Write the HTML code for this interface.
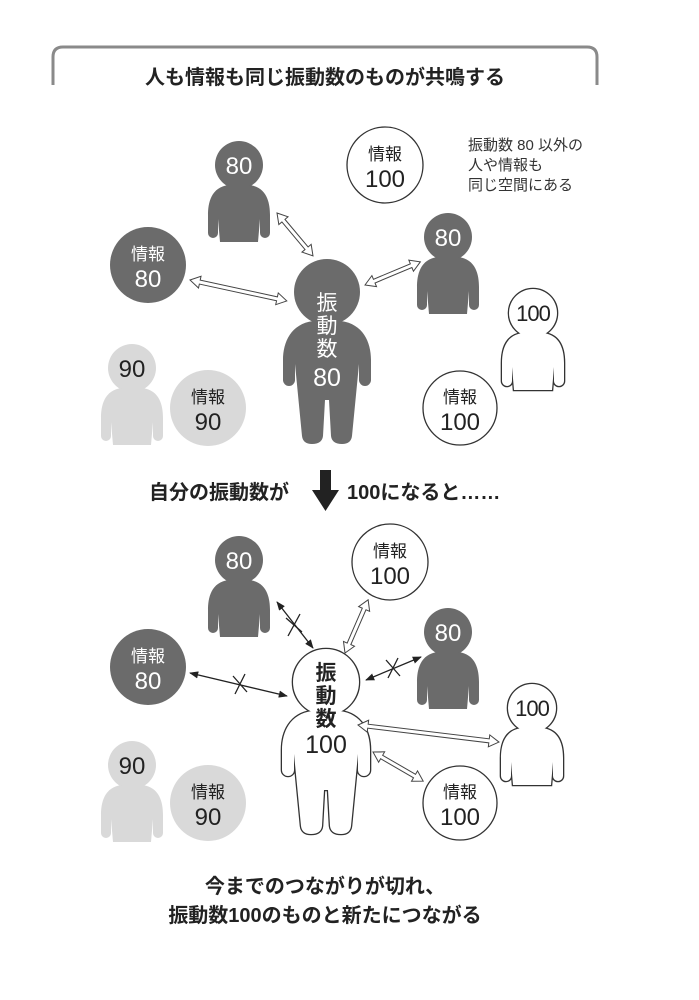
<!DOCTYPE html>
<html><head><meta charset="utf-8"><style>
html,body{margin:0;padding:0;background:#fff}
svg{display:block}
text{font-family:"Liberation Sans","Noto Sans CJK JP",sans-serif}
</style></head><body>
<svg width="699" height="1000" viewBox="0 0 699 1000" xmlns="http://www.w3.org/2000/svg">
<defs>
<g id="sp"><circle cx="0" cy="0" r="24"/><path d="M -10,20 C -28,22 -31,38 -31,50 L -31,68 a5,5 0 0 0 10,0 L -21,54 L -19,77 L 19,77 L 21,54 L 21,68 a5,5 0 0 0 10,0 L 31,50 C 31,38 28,22 10,20 Z"/></g>
<g id="bp"><circle cx="0" cy="0" r="33"/><path d="M -14,29 C -36,32 -44,50 -44,68 L -44,88 a6,6 0 0 0 12,0 L -32,72 L -25,144 Q -24,152 -15,152 Q -5,152 -4,144 L -2,108 L 2,108 L 4,144 Q 5,152 15,152 Q 24,152 25,144 L 32,72 L 32,88 a6,6 0 0 0 12,0 L 44,68 C 44,50 36,32 14,29 Z"/></g>
<marker id="ah" viewBox="0 0 10 10" refX="9" refY="5" markerWidth="7" markerHeight="7" orient="auto-start-reverse"><path d="M0,1 L10,5 L0,9 Z" fill="#222"/></marker>
</defs>

<path d="M53,85 L53,57 Q53,47 63,47 L587,47 Q597,47 597,57 L597,85" fill="none" stroke="#8a8a8a" stroke-width="3"/>
<text x="325" y="84" font-size="20" font-weight="bold" text-anchor="middle" fill="#222">人も情報も同じ振動数のものが共鳴する</text>

<text font-size="15" fill="#333"><tspan x="468" y="150">振動数 80 以外の</tspan><tspan x="468" y="170">人や情報も</tspan><tspan x="468" y="190">同じ空間にある</tspan></text>

<!-- TOP -->
<use href="#sp" x="239" y="165" fill="#6b6b6b"/>
<text x="239" y="174" font-size="24" fill="#fff" text-anchor="middle">80</text>
<use href="#sp" x="448" y="237" fill="#6b6b6b"/>
<text x="448" y="246" font-size="24" fill="#fff" text-anchor="middle">80</text>
<use href="#sp" x="533" y="313" fill="#333" stroke="#333" stroke-width="2.6"/>
<use href="#sp" x="533" y="313" fill="#fff"/>
<text x="533" y="321" font-size="22" fill="#222" text-anchor="middle" letter-spacing="-1">100</text>
<use href="#sp" x="132" y="368" fill="#d9d9d9"/>
<text x="132" y="377" font-size="24" fill="#222" text-anchor="middle">90</text>

<circle cx="385" cy="165" r="38" fill="#fff" stroke="#333" stroke-width="1.3"/>
<text x="385" y="160" font-size="17" fill="#222" text-anchor="middle">情報</text>
<text x="385" y="187" font-size="24" fill="#222" text-anchor="middle">100</text>
<circle cx="148" cy="265" r="38" fill="#6b6b6b"/>
<text x="148" y="260" font-size="17" fill="#fff" text-anchor="middle">情報</text>
<text x="148" y="287" font-size="24" fill="#fff" text-anchor="middle">80</text>
<circle cx="208" cy="408" r="38" fill="#d9d9d9"/>
<text x="208" y="403" font-size="17" fill="#222" text-anchor="middle">情報</text>
<text x="208" y="430" font-size="24" fill="#222" text-anchor="middle">90</text>
<circle cx="460" cy="408" r="37" fill="#fff" stroke="#333" stroke-width="1.3"/>
<text x="460" y="403" font-size="17" fill="#222" text-anchor="middle">情報</text>
<text x="460" y="430" font-size="24" fill="#222" text-anchor="middle">100</text>

<use href="#bp" x="327" y="292" fill="#6b6b6b"/>
<text font-size="21" fill="#fff" text-anchor="middle"><tspan x="327" y="310">振</tspan><tspan x="327" y="333">動</tspan><tspan x="327" y="356">数</tspan></text>
<text x="327" y="386" font-size="25" fill="#fff" text-anchor="middle">80</text>

<g fill="#fff" stroke="#444" stroke-width="1">
<polygon transform="translate(277,213) rotate(50)" points="0,0 10,-6 10,-2 46,-2 46,-6 56,0 46,6 46,2 10,2 10,6"/>
<polygon transform="translate(190,280) rotate(12.2)" points="0,0 10,-6 10,-2 89,-2 89,-6 99,0 89,6 89,2 10,2 10,6"/>
<polygon transform="translate(365,285) rotate(-22.7)" points="0,0 10,-6 10,-2 50,-2 50,-6 60,0 50,6 50,2 10,2 10,6"/>
</g>

<!-- middle -->
<text x="149" y="499" font-size="20" font-weight="bold" fill="#222">自分の振動数が</text>
<path d="M320,470 L331,470 L331,490 L339,490 L325.5,511 L312,490 L320,490 Z" fill="#222"/>
<text x="347" y="499" font-size="20" font-weight="bold" fill="#222">100になると……</text>

<!-- BOTTOM -->
<use href="#sp" x="239" y="560" fill="#6b6b6b"/>
<text x="239" y="569" font-size="24" fill="#fff" text-anchor="middle">80</text>
<use href="#sp" x="448" y="632" fill="#6b6b6b"/>
<text x="448" y="641" font-size="24" fill="#fff" text-anchor="middle">80</text>
<use href="#sp" x="532" y="708" fill="#333" stroke="#333" stroke-width="2.6"/>
<use href="#sp" x="532" y="708" fill="#fff"/>
<text x="532" y="716" font-size="22" fill="#222" text-anchor="middle" letter-spacing="-1">100</text>
<use href="#sp" x="132" y="765" fill="#d9d9d9"/>
<text x="132" y="774" font-size="24" fill="#222" text-anchor="middle">90</text>

<circle cx="390" cy="562" r="38" fill="#fff" stroke="#333" stroke-width="1.3"/>
<text x="390" y="557" font-size="17" fill="#222" text-anchor="middle">情報</text>
<text x="390" y="584" font-size="24" fill="#222" text-anchor="middle">100</text>
<circle cx="148" cy="667" r="38" fill="#6b6b6b"/>
<text x="148" y="662" font-size="17" fill="#fff" text-anchor="middle">情報</text>
<text x="148" y="689" font-size="24" fill="#fff" text-anchor="middle">80</text>
<circle cx="208" cy="803" r="38" fill="#d9d9d9"/>
<text x="208" y="798" font-size="17" fill="#222" text-anchor="middle">情報</text>
<text x="208" y="825" font-size="24" fill="#222" text-anchor="middle">90</text>
<circle cx="460" cy="803" r="37" fill="#fff" stroke="#333" stroke-width="1.3"/>
<text x="460" y="798" font-size="17" fill="#222" text-anchor="middle">情報</text>
<text x="460" y="825" font-size="24" fill="#222" text-anchor="middle">100</text>

<use href="#bp" x="326" y="682" fill="#333" stroke="#333" stroke-width="2.6"/>
<use href="#bp" x="326" y="682" fill="#fff"/>
<text font-size="21" font-weight="bold" fill="#222" text-anchor="middle"><tspan x="326" y="680">振</tspan><tspan x="326" y="703">動</tspan><tspan x="326" y="726">数</tspan></text>
<text x="326" y="753" font-size="25" fill="#222" text-anchor="middle">100</text>

<g stroke="#222" stroke-width="1.3" fill="none">
<line x1="277" y1="602" x2="313" y2="648" marker-start="url(#ah)" marker-end="url(#ah)"/>
<line x1="190" y1="673" x2="287" y2="696" marker-start="url(#ah)" marker-end="url(#ah)"/>
<line x1="366" y1="680" x2="421" y2="657" marker-start="url(#ah)" marker-end="url(#ah)"/>
<path d="M286,618 L302,632 M300,614 L288,636"/>
<path d="M233,676 L247,692 M245,674 L235,694"/>
<path d="M386,660 L400,676 M398,658 L388,678"/>
</g>
<g fill="#fff" stroke="#444" stroke-width="1">
<polygon transform="translate(345,653) rotate(-66.5)" points="0,0 10,-6 10,-2 48,-2 48,-6 58,0 48,6 48,2 10,2 10,6"/>
<polygon transform="translate(358,725) rotate(6.9)" points="0,0 10,-6 10,-2 132,-2 132,-6 142,0 132,6 132,2 10,2 10,6"/>
<polygon transform="translate(373,752) rotate(30.1)" points="0,0 10,-6 10,-2 48,-2 48,-6 58,0 48,6 48,2 10,2 10,6"/>
</g>

<text x="325" y="893" font-size="20" font-weight="bold" text-anchor="middle" fill="#222">今までのつながりが切れ、</text>
<text x="325" y="922" font-size="20" font-weight="bold" text-anchor="middle" fill="#222">振動数100のものと新たにつながる</text>
</svg>
</body></html>
